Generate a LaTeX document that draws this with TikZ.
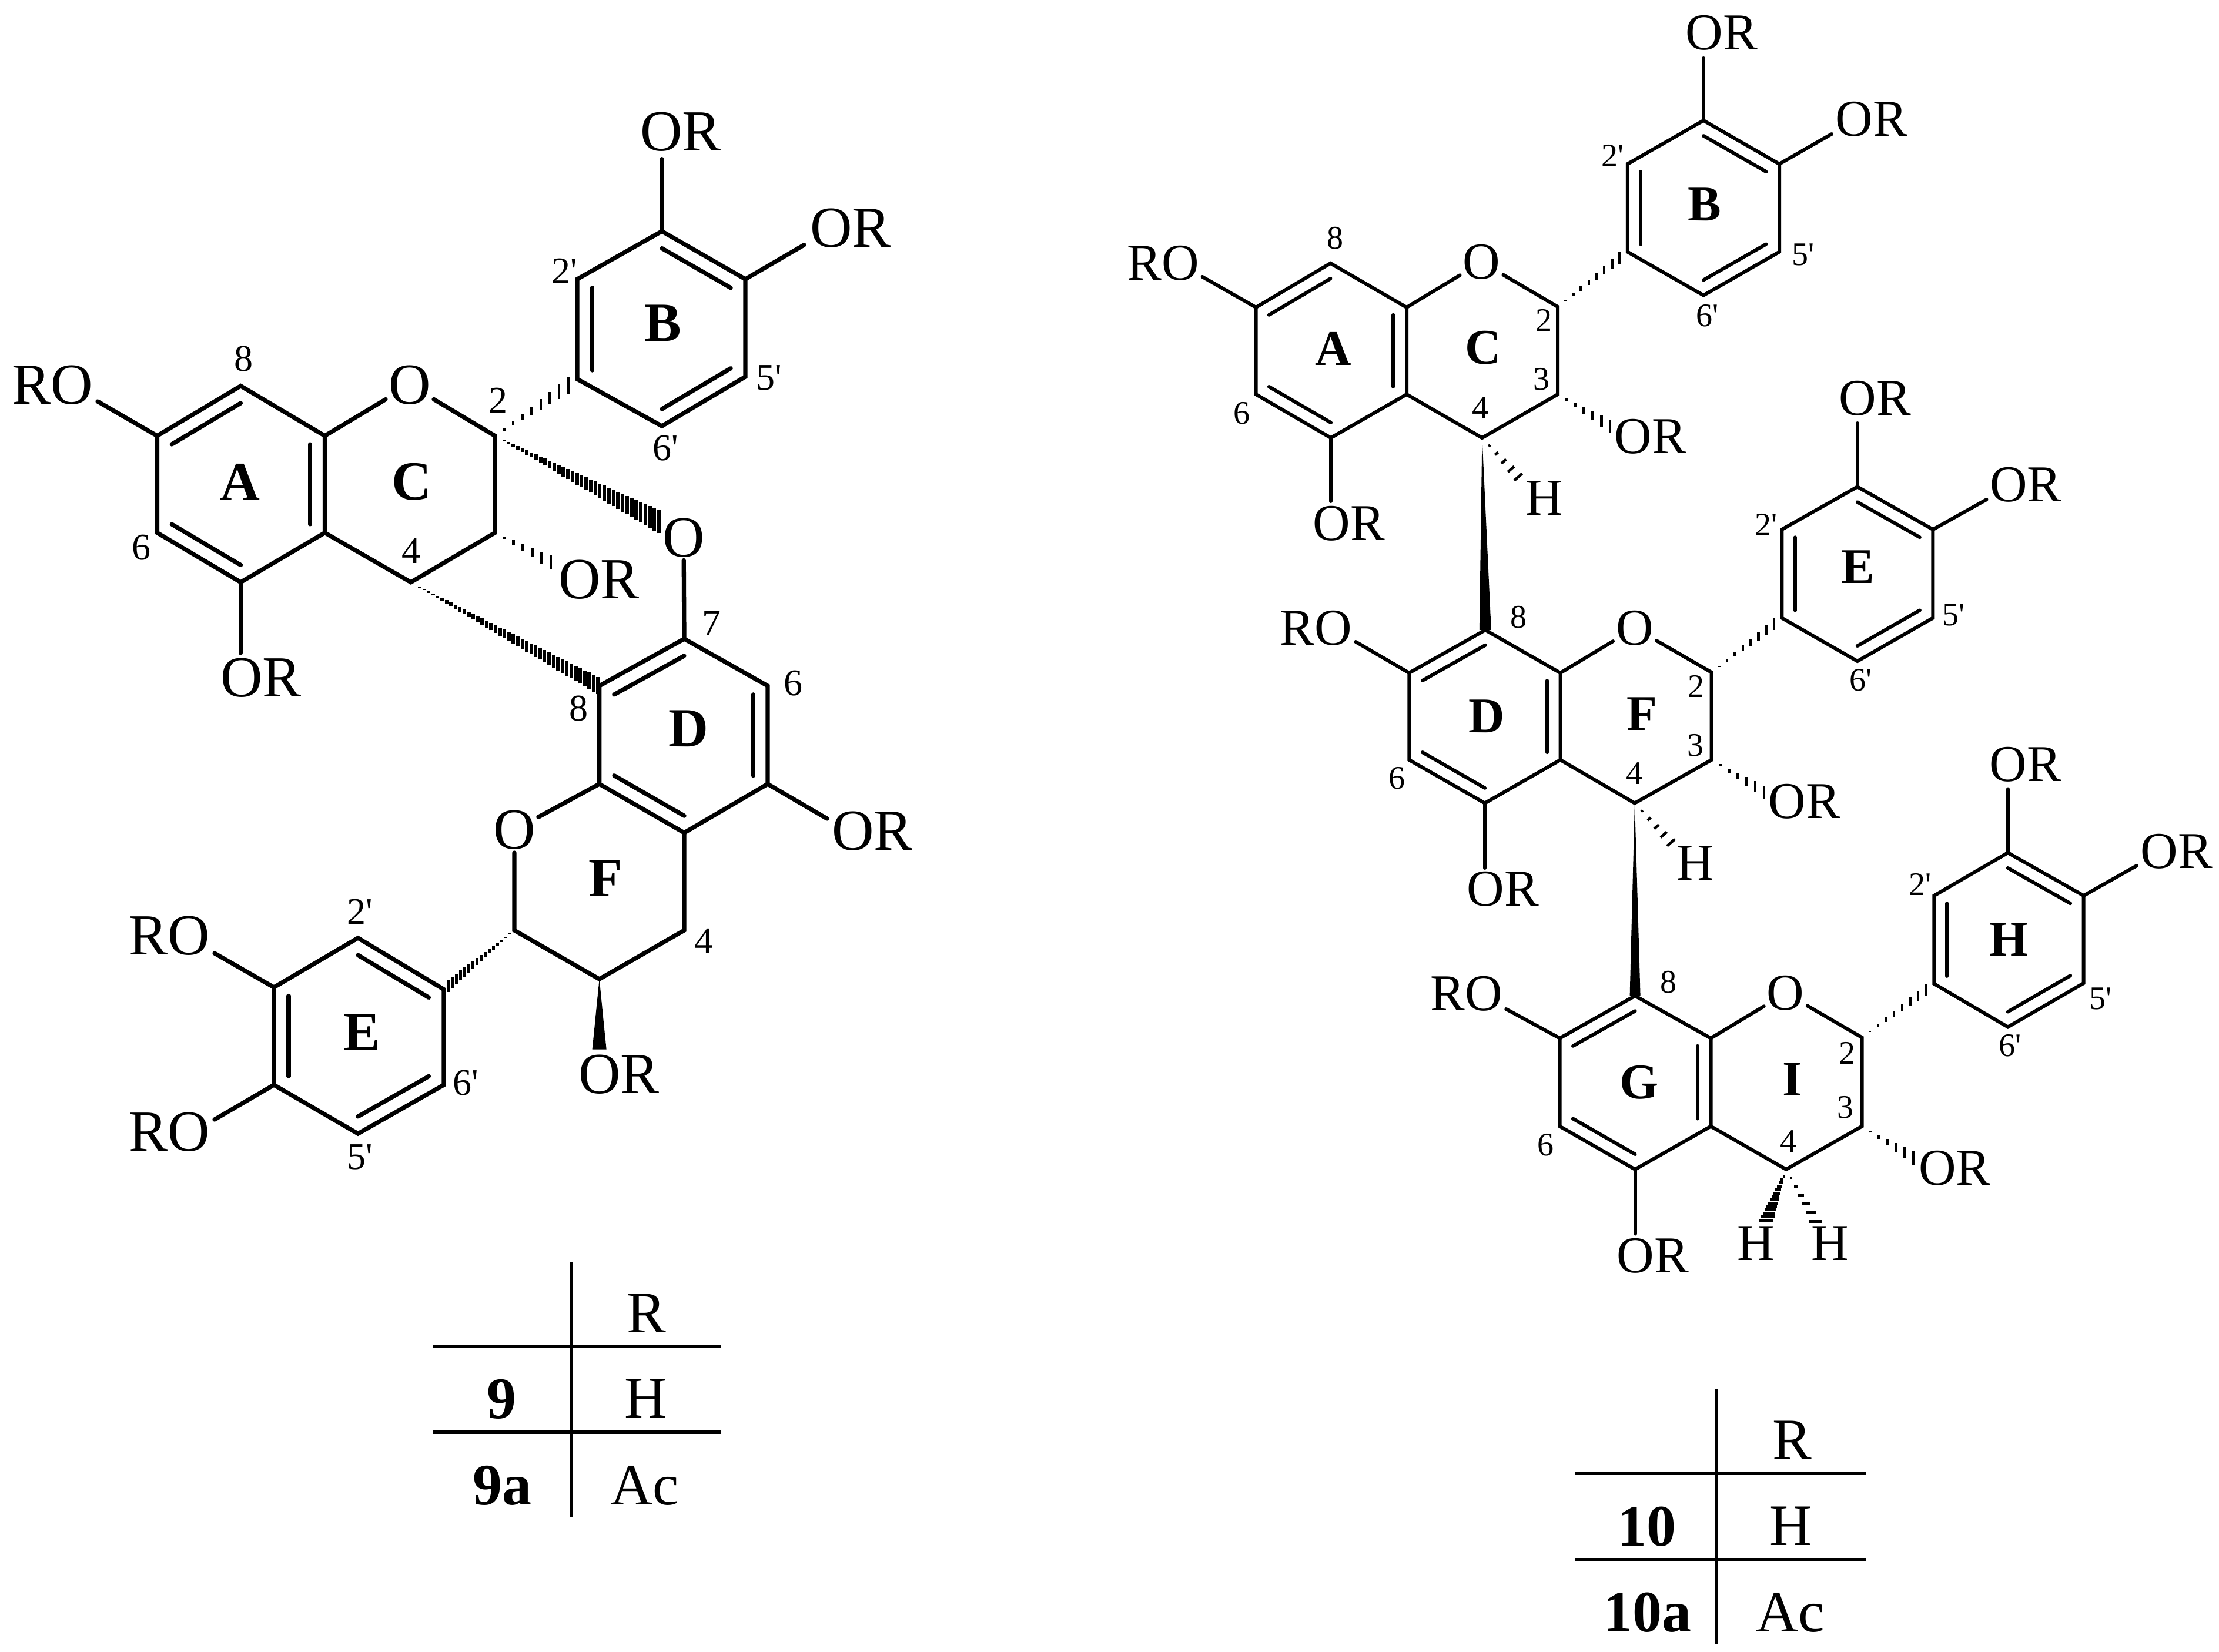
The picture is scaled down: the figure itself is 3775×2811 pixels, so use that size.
\documentclass[tikz,border=0pt]{standalone}
\usepackage{fontspec}
\setmainfont{Liberation Serif}[Ligatures=TeXOff]
\usetikzlibrary{calc}

\tikzset{
every picture/.style={
x=1pt, y=-1pt, line join=miter
},
bondl/.style={line width=7.3pt, line cap=round},
bondr/.style={line width=6pt, line cap=round},
rule/.style={line width=5.5pt},
atoml/.style={font=\fontsize{99}{110}\selectfont, inner sep=5pt},
atomr/.style={font=\fontsize{88}{100}\selectfont, inner sep=5pt},
numl/.style={font=\fontsize{64}{70}\selectfont, inner sep=0pt},
numr/.style={font=\fontsize{56}{62}\selectfont, inner sep=0pt},
ringl/.style={font=\fontsize{94}{100}\selectfont\bfseries, inner sep=0pt},
ringr/.style={font=\fontsize{85}{95}\selectfont\bfseries, inner sep=0pt},
cell/.style={font=\fontsize{100}{110}\selectfont, inner sep=0pt},
cellb/.style={font=\fontsize{100}{110}\selectfont\bfseries, inner sep=0pt}
}

% stripes across a bond, from #1 to #2, half stripe #3 at the far end
\newcommand{\hashbond}[5]{%
  \foreach \i in {1,...,#4} {
    \pgfmathsetmacro{\hpos}{\i/(#4+1)}
    \draw [line width=#5] ($(#1)!\hpos!(#2)+\hpos*(#3)$) -- ($(#1)!\hpos!(#2)-\hpos*(#3)$);
  }}

\begin{document}
\begin{tikzpicture}
  \useasboundingbox (0,0) rectangle (3775,2811);

  % 9, upper unit
  \coordinate (a8) at (409.5,656.7);
  \coordinate (a8a) at (552.6,741.6);
  \coordinate (a4a) at (552.6,906.5);
  \coordinate (a5) at (409.5,990.7);
  \coordinate (a6) at (267.4,906.5);
  \coordinate (a7) at (267.4,741.6);
  \coordinate (ca) at ($(a8)!0.5!(a5)$);
  \coordinate (c2) at (842,741.6);
  \coordinate (c3) at (842,906.5);
  \coordinate (c4) at (699,990.7);
  \coordinate (b1) at (982,645);
  \coordinate (b2) at (982,475);
  \coordinate (b3) at (1126,393.5);
  \coordinate (b4) at (1268,475);
  \coordinate (b5) at (1268,641);
  \coordinate (b6) at (1126,725);
  \coordinate (cb) at ($(b3)!0.5!(b6)$);

  \node (co) [atoml] at (697,655) {O};
  \node (oa7) [atoml] at (89.5,655) {RO};
  \node (oa5) [atoml] at (444,1153.5) {OR};
  \node (oc3) [atoml] at (1019,986.5) {OR};
  \node (ob3) [atoml] at (1158,224) {OR};
  \node (ob4) [atoml] at (1447,388.6) {OR};
  \node (ol) [atoml] at (1163,915) {O};

  \coordinate (ea7) at (166,683);
  \coordinate (ea5) at (409.5,1111);
  \coordinate (ec3) at (953,965.5);
  \coordinate (eb3) at (1126,270.7);
  \coordinate (eb4) at (1368,416.7);

  % 9, lower unit
  \coordinate (d7) at (1164,1087);
  \coordinate (d6) at (1306,1167);
  \coordinate (d5) at (1306,1334);
  \coordinate (d4a) at (1164,1417);
  \coordinate (d8a) at (1019.6,1334);
  \coordinate (d8) at (1019.6,1167);
  \coordinate (cd) at ($(d7)!0.5!(d4a)$);
  \coordinate (f2) at (875,1583);
  \coordinate (f3) at (1019.6,1666);
  \coordinate (f4) at (1164,1583);
  \coordinate (e1) at (755,1683.5);
  \coordinate (e2) at (609,1596);
  \coordinate (e3) at (466,1680);
  \coordinate (e4) at (466,1846);
  \coordinate (e5) at (609,1929);
  \coordinate (e6) at (755,1846);
  \coordinate (ce) at ($(e2)!0.5!(e5)$);

  \node (fo) [atoml] at (875,1412.5) {O};
  \node (od5) [atoml] at (1484,1414) {OR};
  \node (of3) [atoml] at (1053,1828) {OR};
  \node (oe3) [atoml] at (288,1592) {RO};
  \node (oe4) [atoml] at (288,1926) {RO};

  \coordinate (ed5) at (1407,1393);
  \coordinate (ef3) at (1019.6,1785.6);
  \coordinate (ee3) at (365,1622);
  \coordinate (ee4) at (365,1905);
  \coordinate (el) at (1129,892);
  \coordinate (ed8) at (1025,1171);

  \draw [bondl] (a8) -- (a8a) -- (a4a) -- (a5) -- (a6) -- (a7) -- cycle;
  \draw [bondl] ($(a7)!0.175!(ca)$) -- ($(a8)!0.175!(ca)$);
  \draw [bondl] ($(a8a)!0.175!(ca)$) -- ($(a4a)!0.175!(ca)$);
  \draw [bondl] ($(a6)!0.175!(ca)$) -- ($(a5)!0.175!(ca)$);
  \draw [bondl] (a8a) -- (co);
  \draw [bondl] (co) -- (c2) -- (c3) -- (c4) -- (a4a);
  \draw [bondl] (b1) -- (b2) -- (b3) -- (b4) -- (b5) -- (b6) -- cycle;
  \draw [bondl] ($(b1)!0.175!(cb)$) -- ($(b2)!0.175!(cb)$);
  \draw [bondl] ($(b3)!0.175!(cb)$) -- ($(b4)!0.175!(cb)$);
  \draw [bondl] ($(b5)!0.175!(cb)$) -- ($(b6)!0.175!(cb)$);
  \draw [bondl] (a7) -- (ea7);
  \draw [bondl] (a5) -- (ea5);
  \draw [bondl] (b3) -- (eb3);
  \draw [bondl] (b4) -- (eb4);
  \hashbond{c2}{b1}{0,16}{8}{4.5pt}
  \hashbond{c3}{ec3}{0,14}{6}{4.5pt}
  \hashbond{c2}{el}{0,20}{36}{6pt}
  \hashbond{c4}{ed8}{0,15}{42}{6pt}

  \draw [bondl] (d7) -- (d6) -- (d5) -- (d4a) -- (d8a) -- (d8) -- cycle;
  \draw [bondl] ($(d8)!0.175!(cd)$) -- ($(d7)!0.175!(cd)$);
  \draw [bondl] ($(d6)!0.175!(cd)$) -- ($(d5)!0.175!(cd)$);
  \draw [bondl] ($(d8a)!0.175!(cd)$) -- ($(d4a)!0.175!(cd)$);
  \draw [bondl] (ol) -- (d7);
  \draw [bondl] (d8a) -- (fo);
  \draw [bondl] (fo) -- (f2) -- (f3) -- (f4) -- (d4a);
  \draw [bondl] (e1) -- (e2) -- (e3) -- (e4) -- (e5) -- (e6) -- cycle;
  \draw [bondl] ($(e1)!0.175!(ce)$) -- ($(e2)!0.175!(ce)$);
  \draw [bondl] ($(e3)!0.175!(ce)$) -- ($(e4)!0.175!(ce)$);
  \draw [bondl] ($(e5)!0.175!(ce)$) -- ($(e6)!0.175!(ce)$);
  \draw [bondl] (d5) -- (ed5);
  \draw [bondl] (e3) -- (ee3);
  \draw [bondl] (e4) -- (ee4);
  \hashbond{f2}{e1}{0,11}{16}{5pt}
  \fill (f3) -- ($(ef3)+(12,0)$) -- ($(ef3)-(12,0)$) -- cycle;

  \node (n8a) [numl] at (414,611) {8};
  \node (n6a) [numl] at (240,932) {6};
  \node (n2c) [numl] at (847,681) {2};
  \node (n4c) [numl] at (699,937) {4};
  \node (n2b) [numl] at (960,461) {2'};
  \node (n5b) [numl] at (1308,643) {5'};
  \node (n6b) [numl] at (1132,763) {6'};
  \node (n7d) [numl] at (1210.5,1061) {7};
  \node (n6d) [numl] at (1349.5,1163) {6};
  \node (n8d) [numl] at (984,1206) {8};
  \node (n4f) [numl] at (1197,1601) {4};
  \node (n2e) [numl] at (612,1551.5) {2'};
  \node (n6e) [numl] at (792,1843) {6'};
  \node (n5e) [numl] at (612,1969) {5'};

  \node (la) [ringl] at (408,820) {A};
  \node (lc) [ringl] at (700,820) {C};
  \node (lb) [ringl] at (1128,550) {B};
  \node (ld) [ringl] at (1171,1240) {D};
  \node (lf) [ringl] at (1030,1495) {F};
  \node (le) [ringl] at (616,1757) {E};

  % 10, upper unit
  \coordinate (ra8) at (2263.4,448);
  \coordinate (ra8a) at (2393,523);
  \coordinate (ra4a) at (2393,671);
  \coordinate (ra5) at (2264,745);
  \coordinate (ra6) at (2136.6,671);
  \coordinate (ra7) at (2136.6,523);
  \coordinate (rca) at ($(ra8)!0.5!(ra5)$);
  \coordinate (rc2) at (2650,522);
  \coordinate (rc3) at (2650,671);
  \coordinate (rc4) at (2521.4,745);
  \coordinate (rb1) at (2768.8,428.6);
  \coordinate (rb2) at (2768.8,279);
  \coordinate (rb3) at (2898,205);
  \coordinate (rb4) at (3027,279);
  \coordinate (rb5) at (3027,428.6);
  \coordinate (rb6) at (2898,502.5);
  \coordinate (rcb) at ($(rb3)!0.5!(rb6)$);

  \node (rco) [atomr] at (2520.5,446) {O};
  \node (roa7) [atomr] at (1978.6,448) {RO};
  \node (roa5) [atomr] at (2294.6,891) {OR};
  \node (roc3) [atomr] at (2808,743) {OR};
  \node (rhc4) [atomr] at (2627.7,848) {H};
  \node (rob3) [atomr] at (2928.6,56) {OR};
  \node (rob4) [atomr] at (3184,203) {OR};

  \coordinate (rea7) at (2045.5,471);
  \coordinate (rea5) at (2264,853);
  \coordinate (rec3) at (2754,735);
  \coordinate (rec4) at (2595,825);
  \coordinate (reb3) at (2898,99);
  \coordinate (reb4) at (3116,228);

  \draw [bondr] (ra8) -- (ra8a) -- (ra4a) -- (ra5) -- (ra6) -- (ra7) -- cycle;
  \draw [bondr] ($(ra7)!0.175!(rca)$) -- ($(ra8)!0.175!(rca)$);
  \draw [bondr] ($(ra8a)!0.175!(rca)$) -- ($(ra4a)!0.175!(rca)$);
  \draw [bondr] ($(ra6)!0.175!(rca)$) -- ($(ra5)!0.175!(rca)$);
  \draw [bondr] (ra8a) -- (rco);
  \draw [bondr] (rco) -- (rc2) -- (rc3) -- (rc4) -- (ra4a);
  \draw [bondr] (rb1) -- (rb2) -- (rb3) -- (rb4) -- (rb5) -- (rb6) -- cycle;
  \draw [bondr] ($(rb1)!0.175!(rcb)$) -- ($(rb2)!0.175!(rcb)$);
  \draw [bondr] ($(rb3)!0.175!(rcb)$) -- ($(rb4)!0.175!(rcb)$);
  \draw [bondr] ($(rb5)!0.175!(rcb)$) -- ($(rb6)!0.175!(rcb)$);
  \draw [bondr] (ra7) -- (rea7);
  \draw [bondr] (ra5) -- (rea5);
  \draw [bondr] (rb3) -- (reb3);
  \draw [bondr] (rb4) -- (reb4);
  \hashbond{rc2}{rb1}{0,11}{8}{4.5pt}
  \hashbond{rc3}{rec3}{0,13}{6}{4.5pt}
  \hashbond{rc4}{rec4}{8,-7}{5}{4.5pt}

  \node (rn8a) [numr] at (2271.4,405) {8};
  \node (rn6a) [numr] at (2112.5,703) {6};
  \node (rn2c) [numr] at (2626,545) {2};
  \node (rn3c) [numr] at (2622,645) {3};
  \node (rn4c) [numr] at (2518.8,694) {4};
  \node (rn2b) [numr] at (2743.8,264.7) {2'};
  \node (rn5b) [numr] at (3067.9,433.7) {5'};
  \node (rn6b) [numr] at (2904.5,537) {6'};

  \node (rla) [ringr] at (2267.9,593) {A};
  \node (rlc) [ringr] at (2523.2,592) {C};
  \node (rlb) [ringr] at (2900,347.6) {B};

  % 10, middle unit
  \coordinate (rd8) at (2526.8,1072);
  \coordinate (rd8a) at (2654.5,1145);
  \coordinate (rd4a) at (2654.5,1293);
  \coordinate (rd5) at (2526,1366.6);
  \coordinate (rd6) at (2397.3,1293);
  \coordinate (rd7) at (2397.3,1145);
  \coordinate (rcd) at ($(rd8)!0.5!(rd5)$);
  \coordinate (rf2) at (2911.6,1144);
  \coordinate (rf3) at (2911.6,1293);
  \coordinate (rf4) at (2781,1366.6);
  \coordinate (re1) at (3031.3,1051.5);
  \coordinate (re2) at (3031.3,901);
  \coordinate (re3) at (3159.8,828.3);
  \coordinate (re4) at (3288.4,901);
  \coordinate (re5) at (3288.4,1051.5);
  \coordinate (re6) at (3159.8,1125);
  \coordinate (rce) at ($(re3)!0.5!(re6)$);

  \node (rfo) [atomr] at (2781,1068.8) {O};
  \node (rod7) [atomr] at (2239,1069) {RO};
  \node (rod5) [atomr] at (2557,1513) {OR};
  \node (rof3) [atomr] at (3069.6,1364) {OR};
  \node (rhf4) [atomr] at (2884,1469) {H};
  \node (roe3) [atomr] at (3190,678) {OR};
  \node (roe4) [atomr] at (3446.4,825) {OR};

  \coordinate (red7) at (2306.3,1092);
  \coordinate (red5) at (2526,1477);
  \coordinate (ref3) at (3016,1357);
  \coordinate (ref4) at (2855,1447);
  \coordinate (ree3) at (3159.8,720);
  \coordinate (ree4) at (3379.5,850);

  \fill (rc4) -- ($(rd8)+(10,0)$) -- ($(rd8)-(10,0)$) -- cycle;
  \draw [bondr] (rd8) -- (rd8a) -- (rd4a) -- (rd5) -- (rd6) -- (rd7) -- cycle;
  \draw [bondr] ($(rd7)!0.175!(rcd)$) -- ($(rd8)!0.175!(rcd)$);
  \draw [bondr] ($(rd8a)!0.175!(rcd)$) -- ($(rd4a)!0.175!(rcd)$);
  \draw [bondr] ($(rd6)!0.175!(rcd)$) -- ($(rd5)!0.175!(rcd)$);
  \draw [bondr] (rd8a) -- (rfo);
  \draw [bondr] (rfo) -- (rf2) -- (rf3) -- (rf4) -- (rd4a);
  \draw [bondr] (re1) -- (re2) -- (re3) -- (re4) -- (re5) -- (re6) -- cycle;
  \draw [bondr] ($(re1)!0.175!(rce)$) -- ($(re2)!0.175!(rce)$);
  \draw [bondr] ($(re3)!0.175!(rce)$) -- ($(re4)!0.175!(rce)$);
  \draw [bondr] ($(re5)!0.175!(rce)$) -- ($(re6)!0.175!(rce)$);
  \draw [bondr] (rd7) -- (red7);
  \draw [bondr] (rd5) -- (red5);
  \draw [bondr] (re3) -- (ree3);
  \draw [bondr] (re4) -- (ree4);
  \hashbond{rf2}{re1}{0,11}{8}{4.5pt}
  \hashbond{rf3}{ref3}{0,13}{6}{4.5pt}
  \hashbond{rf4}{ref4}{8,-7}{5}{4.5pt}

  \node (rn8d) [numr] at (2583,1050) {8};
  \node (rn6d) [numr] at (2376,1324) {6};
  \node (rn2f) [numr] at (2885.7,1167.6) {2};
  \node (rn3f) [numr] at (2884,1268) {3};
  \node (rn4f) [numr] at (2780,1315.6) {4};
  \node (rn2e) [numr] at (3005,893) {2'};
  \node (rn5e) [numr] at (3324,1046) {5'};
  \node (rn6e) [numr] at (3166,1157) {6'};

  \node (rld) [ringr] at (2529.5,1218.6) {D};
  \node (rlf) [ringr] at (2793,1215) {F};
  \node (rle) [ringr] at (3160.7,965) {E};

  % 10, lower unit
  \coordinate (rg8) at (2781.6,1694.5);
  \coordinate (rg8a) at (2910.5,1766.6);
  \coordinate (rg4a) at (2910.5,1916.5);
  \coordinate (rg5) at (2781.6,1989.8);
  \coordinate (rg6) at (2653.5,1916.5);
  \coordinate (rg7) at (2653.5,1766.6);
  \coordinate (rcg) at ($(rg8)!0.5!(rg5)$);
  \coordinate (ri2) at (3167.5,1765.3);
  \coordinate (ri3) at (3167.5,1916.5);
  \coordinate (ri4) at (3038.6,1989.8);
  \coordinate (rh1) at (3290.4,1674);
  \coordinate (rh2) at (3290.4,1524);
  \coordinate (rh3) at (3415.8,1451);
  \coordinate (rh4) at (3544.7,1524);
  \coordinate (rh5) at (3544.7,1673);
  \coordinate (rh6) at (3415.8,1747.5);
  \coordinate (rch) at ($(rh3)!0.5!(rh6)$);

  \node (rio) [atomr] at (3037.7,1690) {O};
  \node (rog7) [atomr] at (2494.7,1691) {RO};
  \node (rog5) [atomr] at (2812,2136.5) {OR};
  \node (roi3) [atomr] at (3325.4,1988) {OR};
  \node (rhi4a) [atomr] at (2987.7,2115.4) {H};
  \node (rhi4b) [atomr] at (3113,2115.4) {H};
  \node (roh3) [atomr] at (3445.6,1301) {OR};
  \node (roh4) [atomr] at (3702.6,1449) {OR};

  \coordinate (reg7) at (2562.3,1717);
  \coordinate (reg5) at (2781.6,2099.5);
  \coordinate (rei3) at (3269.5,1979.5);
  \coordinate (rei4a) at (3002.6,2082);
  \coordinate (rei4b) at (3097,2093);
  \coordinate (reh3) at (3415.8,1342.5);
  \coordinate (reh4) at (3635,1473);

  \fill (rf4) -- ($(rg8)+(9,0)$) -- ($(rg8)-(9,0)$) -- cycle;
  \draw [bondr] (rg8) -- (rg8a) -- (rg4a) -- (rg5) -- (rg6) -- (rg7) -- cycle;
  \draw [bondr] ($(rg7)!0.175!(rcg)$) -- ($(rg8)!0.175!(rcg)$);
  \draw [bondr] ($(rg8a)!0.175!(rcg)$) -- ($(rg4a)!0.175!(rcg)$);
  \draw [bondr] ($(rg6)!0.175!(rcg)$) -- ($(rg5)!0.175!(rcg)$);
  \draw [bondr] (rg8a) -- (rio);
  \draw [bondr] (rio) -- (ri2) -- (ri3) -- (ri4) -- (rg4a);
  \draw [bondr] (rh1) -- (rh2) -- (rh3) -- (rh4) -- (rh5) -- (rh6) -- cycle;
  \draw [bondr] ($(rh1)!0.175!(rch)$) -- ($(rh2)!0.175!(rch)$);
  \draw [bondr] ($(rh3)!0.175!(rch)$) -- ($(rh4)!0.175!(rch)$);
  \draw [bondr] ($(rh5)!0.175!(rch)$) -- ($(rh6)!0.175!(rch)$);
  \draw [bondr] (rg7) -- (reg7);
  \draw [bondr] (rg5) -- (reg5);
  \draw [bondr] (rh3) -- (reh3);
  \draw [bondr] (rh4) -- (reh4);
  \hashbond{ri2}{rh1}{0,11}{8}{4.5pt}
  \hashbond{ri3}{rei3}{0,13}{6}{4.5pt}
  \hashbond{ri4}{rei4a}{13,0}{15}{5pt}
  \hashbond{ri4}{rei4b}{12,0}{6}{5pt}

  \node (rn8g) [numr] at (2838.6,1671) {8};
  \node (rn6g) [numr] at (2629.8,1948) {6};
  \node (rn2i) [numr] at (3142,1792) {2};
  \node (rn3i) [numr] at (3139.5,1884.6) {3};
  \node (rn4i) [numr] at (3042,1942) {4};
  \node (rn2h) [numr] at (3266.7,1505) {2'};
  \node (rn5h) [numr] at (3573.7,1699.6) {5'};
  \node (rn6h) [numr] at (3420,1779) {6'};

  \node (rlg) [ringr] at (2788.6,1842) {G};
  \node (rli) [ringr] at (3049,1836.7) {I};
  \node (rlh) [ringr] at (3417.5,1599) {H};

  % table of 9
  \coordinate (t9t) at (971.3,2148);
  \coordinate (t9b) at (971.3,2580.7);
  \coordinate (t9l1) at (737,2291);
  \coordinate (t9r1) at (1226,2291);
  \coordinate (t9l2) at (737,2437);
  \coordinate (t9r2) at (1226,2437);
  \draw [rule] (t9t) -- (t9b);
  \draw [rule] (t9l1) -- (t9r1);
  \draw [rule] (t9l2) -- (t9r2);
  \node (t9h) [cell] at (1100,2235) {R};
  \node (t9n) [cellb] at (853,2381) {9};
  \node (t9v) [cell] at (1099,2380) {H};
  \node (t9an) [cellb] at (854,2528) {9a};
  \node (t9av) [cell] at (1097,2528) {Ac};

  % table of 10
  \coordinate (t10t) at (2920.5,2363.7);
  \coordinate (t10b) at (2920.5,2797);
  \coordinate (t10l1) at (2680,2507);
  \coordinate (t10r1) at (3175,2507);
  \coordinate (t10l2) at (2680,2653.3);
  \coordinate (t10r2) at (3175,2653.3);
  \draw [rule] (t10t) -- (t10b);
  \draw [rule] (t10l1) -- (t10r1);
  \draw [rule] (t10l2) -- (t10r2);
  \node (t10h) [cell] at (3048.7,2451) {R};
  \node (t10n) [cellb] at (2801.5,2598) {10};
  \node (t10v) [cell] at (3046.8,2597) {H};
  \node (t10an) [cellb] at (2802,2744) {10a};
  \node (t10av) [cell] at (3045.7,2744) {Ac};

\end{tikzpicture}
\end{document}
